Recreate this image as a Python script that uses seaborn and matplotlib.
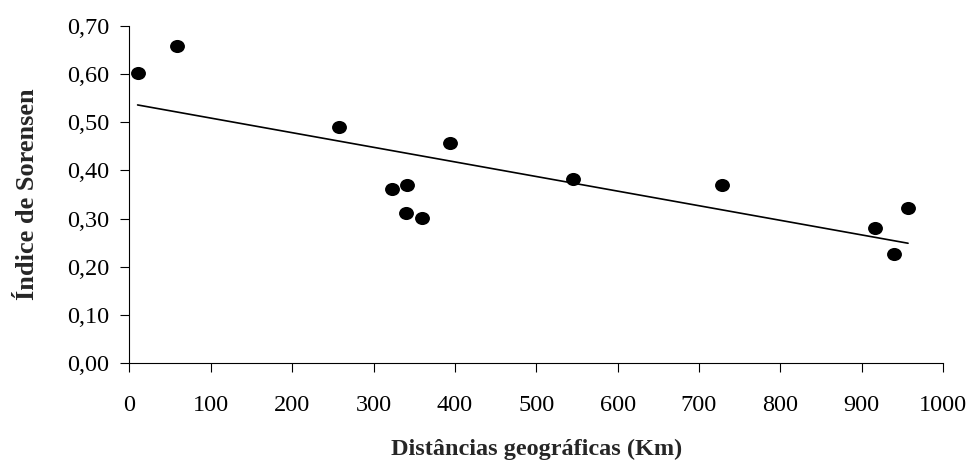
import numpy as np
import pandas as pd
import matplotlib
matplotlib.use("Agg")
import matplotlib.pyplot as plt
from matplotlib.path import Path
from matplotlib.ticker import FuncFormatter
import seaborn as sns

# Data
distancia_km = [10, 58, 258, 323, 341, 340, 359, 394, 545, 728, 916, 940, 957]
indice_sorensen = [0.602, 0.659, 0.490, 0.362, 0.369, 0.312, 0.302, 0.457, 0.383, 0.369, 0.281, 0.227, 0.323]
x_ticks = [0, 100, 200, 300, 400, 500, 600, 700, 800, 900, 1000]
y_ticks = [0.0, 0.1, 0.2, 0.3, 0.4, 0.5, 0.6, 0.7]
x_label = "Distâncias geográficas (Km)"
y_label = "Índice de Sorensen"

df = pd.DataFrame({"dist": distancia_km, "sor": indice_sorensen})

sns.set_style("ticks")
plt.rcParams["font.family"] = ["Liberation Serif", "DejaVu Serif"]

fig = plt.figure(figsize=(9.72, 4.62), dpi=100)
ax = fig.add_axes([0.1332, 0.2136, 0.8370, 0.7307])

# elliptical marker (slightly wider than tall)
circ = Path.unit_circle()
ell = Path(circ.vertices * np.array([1.0, 0.88]), circ.codes)

sns.regplot(data=df, x="dist", y="sor", ax=ax, ci=None, truncate=True,
            marker=ell, color="black",
            scatter_kws={"s": 115, "linewidths": 0, "alpha": 1},
            line_kws={"color": "black", "linewidth": 1.2})

ax.set_xlim(0, 1000)
ax.set_ylim(0, 0.70)
ax.set_xticks(x_ticks)
ax.set_yticks(y_ticks)
ax.yaxis.set_major_formatter(FuncFormatter(lambda v, p: f"{v:.2f}".replace(".", ",")))
ax.xaxis.set_major_formatter(FuncFormatter(lambda v, p: f"{int(round(v))}"))

for s in ["top", "right"]:
    ax.spines[s].set_visible(False)
for s in ["left", "bottom"]:
    ax.spines[s].set_color("black")
    ax.spines[s].set_linewidth(0.8)

ax.tick_params(axis="both", direction="out", length=6.5, width=0.8, color="black",
               labelsize=17.5, labelcolor="black")
ax.tick_params(axis="x", pad=16)
ax.tick_params(axis="y", pad=8)

ax.set_xlabel(x_label, fontsize=17.5, fontweight="bold", labelpad=17)
ax.set_ylabel(y_label, fontsize=19, fontweight="bold", labelpad=20)

fig.savefig("out.png", dpi=100, facecolor="white")
